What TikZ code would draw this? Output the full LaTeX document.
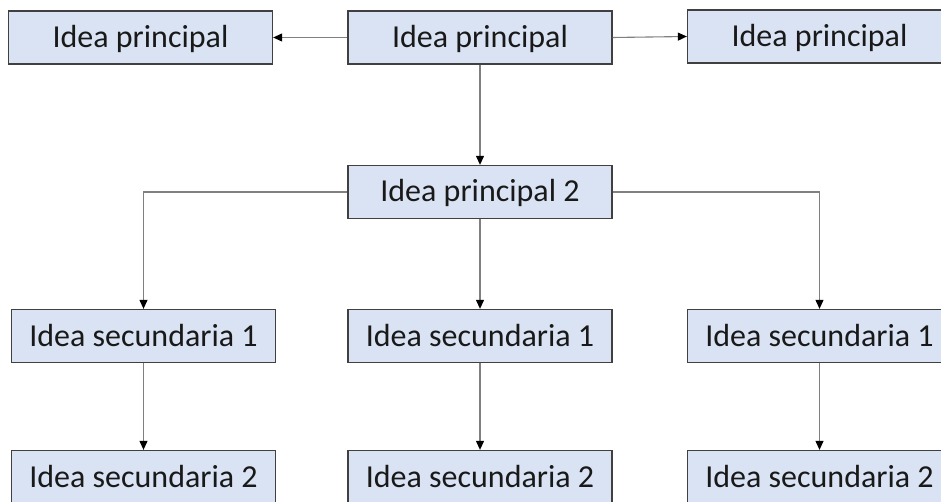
\documentclass[tikz,border=0pt]{standalone}
\usepackage{fontspec}
\setmainfont{Carlito}
\usetikzlibrary{arrows.meta}
\definecolor{boxfill}{RGB}{218,227,243}
\definecolor{boxdraw}{RGB}{64,64,64}
\definecolor{linkgray}{RGB}{128,128,128}
\begin{document}
\begin{tikzpicture}[x=1pt,y=-1pt,
  ideabox/.style={draw=boxdraw, fill=boxfill, line width=1.3pt,
    minimum width=264pt, minimum height=53pt, inner sep=0pt,
    text height=21pt, text depth=1pt, text=black!90,
    font=\fontsize{32}{36}\selectfont},
  link/.style={draw=linkgray, line width=1.1pt,
    -{Triangle[length=9pt,width=8pt,color=black]}}]
\useasboundingbox (0,0) rectangle (941,502);
\clip (0,0) rectangle (941,502);
% top row
\node[ideabox] (t1) at (140.5,37.5) {Idea principal};
\node[ideabox] (t2) at (480,37.5) {Idea principal};
\node[ideabox] (t3) at (819.5,36.5) {Idea principal};
% middle
\node[ideabox] (m) at (480,192) {Idea principal 2};
% secondary 1
\node[ideabox] (a1) at (143.5,336) {Idea secundaria 1};
\node[ideabox] (b1) at (480,336) {Idea secundaria 1};
\node[ideabox] (c1) at (819.5,336) {Idea secundaria 1};
% secondary 2
\node[ideabox] (a2) at (143.5,477) {Idea secundaria 2};
\node[ideabox] (b2) at (480,477) {Idea secundaria 2};
\node[ideabox] (c2) at (819.5,477) {Idea secundaria 2};
% connectors
\draw[link] (t2.west) -- (t1.east);
\draw[link] (t2.east) -- (t3.west);
\draw[link] (t2.south) -- (m.north);
\draw[link] (m.west) -| (a1.north);
\draw[link] (m.east) -| (c1.north);
\draw[link] (m.south) -- (b1.north);
\draw[link] (a1.south) -- (a2.north);
\draw[link] (b1.south) -- (b2.north);
\draw[link] (c1.south) -- (c2.north);
\end{tikzpicture}
\end{document}
